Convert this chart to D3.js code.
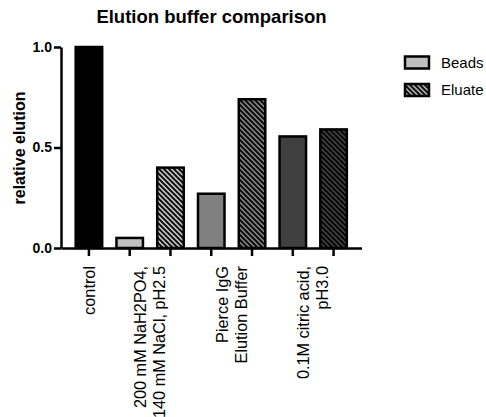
<!DOCTYPE html>
<html>
<head>
<meta charset="utf-8">
<script src="https://cdn.jsdelivr.net/npm/d3@7"></script>
<style>
  html, body { margin: 0; padding: 0; background: #fff; }
  svg { display: block; font-family: "Liberation Sans", Arial, sans-serif; }
</style>
</head>
<body>
<svg id="chart" width="486" height="417"></svg>
<script>
// Relative elution for each buffer, beads fraction vs. eluate fraction
const groupLabels = [
  ["control"],
  ["200 mM NaH2PO4,", "140 mM NaCl, pH2.5"],
  ["Pierce IgG", "Elution Buffer"],
  ["0.1M citric acid,", "pH3.0"]
];
const controlValue = [1.0];
const beadsValues = [0.05, 0.27, 0.555];
const eluateValues = [0.40, 0.74, 0.59];
const groupShades = ["#c0c0c0", "#808080", "#404040"];
const yTickValues = [0, 0.5, 1.0];
const legendLabels = ["Beads", "Eluate"];

// Flatten into one row per bar
const bars = [{ key: "c", group: 0, value: controlValue[0], fill: "#000", hatched: false }];
beadsValues.forEach((v, i) => {
  bars.push({ key: "b" + i, group: i + 1, value: v, fill: groupShades[i], hatched: false });
  bars.push({ key: "e" + i, group: i + 1, value: eluateValues[i], fill: groupShades[i], hatched: true, shade: i });
});

const svg = d3.select("#chart");
const x = d3.scaleBand().domain(bars.map(d => d.key)).range([61, 361.5])
  .paddingInner(0.35).paddingOuter(0.36);
const y = d3.scaleLinear().domain([0, 1]).range([248, 47]);

// Diagonal hatch patterns, one per shade
const defs = svg.append("defs");
function hatch(id, bg) {
  const p = defs.append("pattern").attr("id", id).attr("patternUnits", "userSpaceOnUse")
    .attr("width", 5).attr("height", 5);
  p.append("rect").attr("width", 5).attr("height", 5).attr("fill", bg);
  p.append("path").attr("d", "M0,0L5,5M-1,4L1,6M4,-1L6,1")
    .attr("stroke", "#000").attr("stroke-width", 1.8);
}
groupShades.forEach((c, i) => hatch("hatch" + i, c));
hatch("hatchLegend", "#a8a8a8");

// Bars
svg.append("g").selectAll("rect").data(bars).join("rect")
  .attr("x", d => x(d.key))
  .attr("y", d => y(d.value))
  .attr("width", x.bandwidth())
  .attr("height", d => y(0) - y(d.value))
  .attr("fill", d => d.hatched ? `url(#hatch${d.shade})` : d.fill)
  .attr("stroke", "#000").attr("stroke-width", 2.5);

// Y axis
const yAxis = svg.append("g").attr("transform", "translate(61,0)")
  .call(d3.axisLeft(y).tickValues(yTickValues).tickFormat(d3.format(".1f")).tickSize(7).tickSizeOuter(0));
yAxis.select(".domain").attr("stroke-width", 2.5);
yAxis.selectAll(".tick line").attr("stroke-width", 2.5);
yAxis.selectAll(".tick text").attr("x", -9).attr("font-size", 14).attr("font-weight", "bold")
  .attr("fill", "#000").attr("font-family", "Liberation Sans, Arial, sans-serif");

// X axis: a tick under every bar, labels per group
const xAxis = svg.append("g").attr("transform", "translate(0,248)")
  .call(d3.axisBottom(x).tickFormat("").tickSize(8).tickSizeOuter(0));
xAxis.select(".domain").attr("stroke-width", 2.5);
xAxis.selectAll(".tick line").attr("stroke-width", 2.5);

const lineGap = 19;
groupLabels.forEach((lines, g) => {
  const members = bars.filter(b => b.group === g).map(b => x(b.key) + x.bandwidth() / 2);
  const cx = d3.mean(members);
  lines.forEach((t, i) => {
    const lx = cx + (i - (lines.length - 1) / 2) * lineGap;
    svg.append("text")
      .attr("transform", `translate(${lx},266) rotate(-90)`)
      .attr("text-anchor", "end").attr("dy", "0.35em")
      .attr("font-size", 16.3).attr("fill", "#000")
      .text(t);
  });
});

// Axis title and chart title
svg.append("text")
  .attr("transform", "translate(19,148) rotate(-90)")
  .attr("text-anchor", "middle").attr("dy", "0.35em")
  .attr("font-size", 16).attr("font-weight", "bold").text("relative elution");

svg.append("text")
  .attr("x", 211.5).attr("y", 23)
  .attr("text-anchor", "middle")
  .attr("font-size", 18.5).attr("font-weight", "bold").text("Elution buffer comparison");

// Legend
const legend = svg.append("g");
legendLabels.forEach((lab, i) => {
  const ly = 56.5 + i * 27.5;
  legend.append("rect").attr("x", 405).attr("y", ly).attr("width", 24).attr("height", 12)
    .attr("fill", i === 0 ? "#c0c0c0" : "url(#hatchLegend)")
    .attr("stroke", "#000").attr("stroke-width", 2.5);
  legend.append("text").attr("x", 441).attr("y", ly + 11)
    .attr("font-size", 15).attr("fill", "#000").text(lab);
});
</script>
</body>
</html>
